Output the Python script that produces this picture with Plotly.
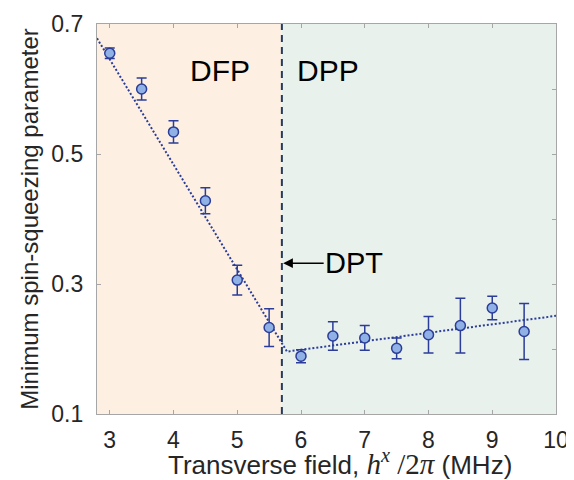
import plotly.graph_objects as go

# data
field = [3.0, 3.5, 4.0, 4.5, 5.0, 5.5, 6.0, 6.5, 7.0, 7.5, 8.0, 8.5, 9.0, 9.5]
squeeze = [0.655, 0.600, 0.534, 0.428, 0.306, 0.233, 0.189, 0.220, 0.217, 0.201, 0.222, 0.236, 0.263, 0.227]
err = [0.008, 0.017, 0.017, 0.020, 0.023, 0.029, 0.010, 0.022, 0.019, 0.016, 0.028, 0.042, 0.018, 0.043]
fit_x = [2.8, 5.78, 10.0]
fit_y = [0.678, 0.196, 0.251]
dpt_x = 5.7
x_range = [2.8, 10.0]
y_range = [0.1, 0.7]
x_ticks = [3, 4, 5, 6, 7, 8, 9, 10]
y_ticks = [0.1, 0.3, 0.5, 0.7]
y_minor = [0.1, 0.2, 0.3, 0.4, 0.5, 0.6, 0.7]

FONT = "Liberation Sans, Arial, sans-serif"
DARK = "#2b3d98"

fig = go.Figure()

fig.add_trace(go.Scatter(
    x=fit_x, y=fit_y, mode="lines",
    line=dict(color=DARK, width=2, dash="2px,2px"),
    showlegend=False, hoverinfo="skip"))

fig.add_trace(go.Scatter(
    x=field, y=squeeze, mode="markers",
    marker=dict(size=10, color="#8fb1e6", line=dict(color=DARK, width=1.5)),
    error_y=dict(type="data", array=err, visible=True, color=DARK, thickness=1.5, width=5),
    showlegend=False))

# invisible trace for right axis ticks
fig.add_trace(go.Scatter(x=[x_range[0]], y=[y_range[0]], yaxis="y2", mode="markers",
                         marker=dict(opacity=0), showlegend=False, hoverinfo="skip"))

fig.add_shape(type="rect", xref="x", yref="y", x0=x_range[0], x1=dpt_x, y0=y_range[0], y1=y_range[1],
              fillcolor="#fdf0e3", line=dict(width=0), layer="below")
fig.add_shape(type="rect", xref="x", yref="y", x0=dpt_x, x1=x_range[1], y0=y_range[0], y1=y_range[1],
              fillcolor="#e8f1ec", line=dict(width=0), layer="below")
fig.add_shape(type="line", xref="x", yref="y", x0=dpt_x, x1=dpt_x, y0=y_range[0], y1=y_range[1],
              line=dict(color="#263a5c", width=2, dash="7px,5px"))

fig.add_annotation(x=4.73, y=0.628, text="DFP", showarrow=False,
                   font=dict(family=FONT, size=30, color="black"))
fig.add_annotation(x=6.43, y=0.628, text="DPP", showarrow=False,
                   font=dict(family=FONT, size=30, color="black"))
fig.add_annotation(x=dpt_x + 0.02, y=0.332, ax=71, ay=0, text="DPT", showarrow=True,
                   arrowhead=2, arrowsize=1.3, arrowwidth=1.5, arrowcolor="black",
                   standoff=0, font=dict(family=FONT, size=29, color="black"))

x_title = ("Transverse field, <span style=\"font-family:'Liberation Serif';font-size:29px\">"
           "<i>h</i><sup><i>x</i></sup> /2<i>π</i></span> (MHz)")
fig.add_annotation(xref="paper", yref="paper", x=0.53, y=0, yanchor="middle", yshift=-48,
                   text=x_title, showarrow=False,
                   font=dict(family=FONT, size=26, color="#262626"))

axis_common = dict(showline=True, linecolor="#a6a6a6", linewidth=1.2, ticks="inside",
                   ticklen=4, tickcolor="#a6a6a6", showgrid=False, zeroline=False,
                   tickfont=dict(family=FONT, size=23, color="#262626"))

# the page body adds an 8px offset; the figure is sized to fit inside the window
fig.update_layout(
    width=566, height=472,
    margin=dict(l=89, r=18, t=16, b=66, autoexpand=False),
    paper_bgcolor="white", plot_bgcolor="white",
    xaxis=dict(range=x_range, tickvals=x_ticks, mirror="ticks", automargin=False,
               ticklabelstandoff=5, **axis_common),
    yaxis=dict(range=y_range, tickvals=y_ticks, tickformat=".1f", automargin=False,
               title=dict(text="Minimum spin-squeezing parameter",
                          font=dict(family=FONT, size=24, color="#262626"), standoff=5),
               ticklabelstandoff=8, **axis_common),
    yaxis2=dict(range=y_range, tickvals=y_minor, overlaying="y", side="right",
                showticklabels=False, showline=True, linecolor="#a6a6a6", linewidth=1.2,
                ticks="inside", ticklen=4, tickcolor="#a6a6a6", showgrid=False, zeroline=False),
)

fig.write_html("out.html")
